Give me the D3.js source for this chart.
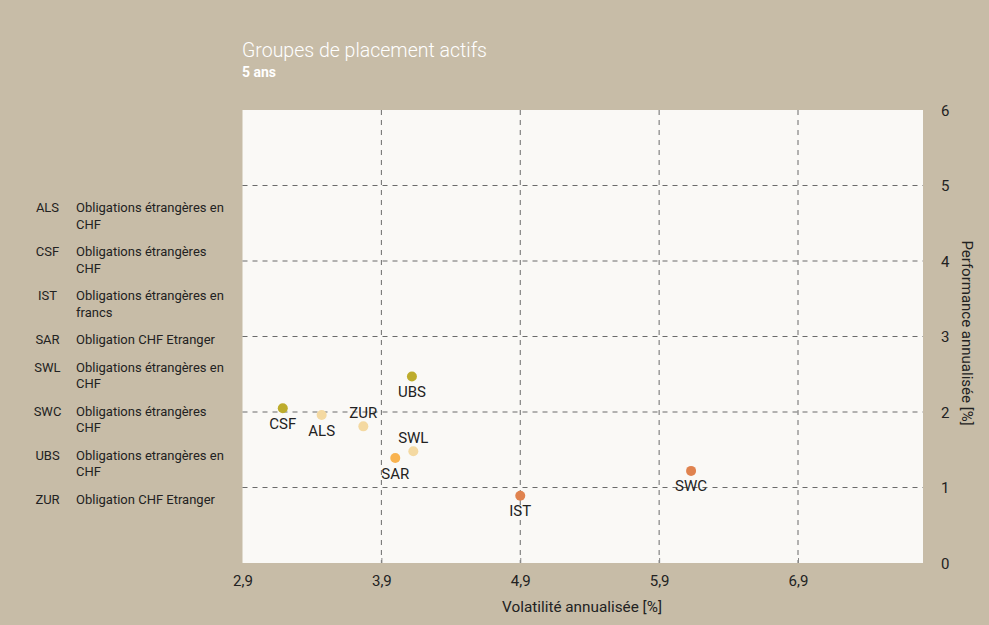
<!DOCTYPE html>
<html>
<head>
<meta charset="utf-8">
<script src="https://cdn.jsdelivr.net/npm/d3@7"></script>
<style>
  html, body { margin: 0; padding: 0; background: #c7bca7; }
  svg { display: block; font-family: Roboto, "Open Sans", sans-serif; }
</style>
</head>
<body>
<svg id="chart" width="989" height="625"></svg>
<script>
// ---- data ----
const codes = ["CSF", "ALS", "ZUR", "UBS", "SWL", "SAR", "IST", "SWC"];
const volatility = [3.19, 3.47, 3.77, 4.12, 4.13, 4.0, 4.9, 6.13];
const performance = [2.05, 1.96, 1.81, 2.47, 1.48, 1.39, 0.89, 1.22];
const labelAbove = [false, false, true, false, true, false, false, false];
const pointGroup = ["olive", "light", "light", "olive", "light", "orange", "red", "red"];

const xTicks = [2.9, 3.9, 4.9, 5.9, 6.9];
const yTicks = [0, 1, 2, 3, 4, 5, 6];

const legendCodes = ["ALS", "CSF", "IST", "SAR", "SWL", "SWC", "UBS", "ZUR"];
const legendText = [
  ["Obligations étrangères en", "CHF"],
  ["Obligations étrangères", "CHF"],
  ["Obligations étrangères en", "francs"],
  ["Obligation CHF Etranger"],
  ["Obligations étrangères en", "CHF"],
  ["Obligations étrangères", "CHF"],
  ["Obligations etrangères en", "CHF"],
  ["Obligation CHF Etranger"]
];

const title = "Groupes de placement actifs";
const subtitle = "5 ans";
const xTitle = "Volatilité annualisée [%]";
const yTitle = "Performance annualisée [%]";

// ---- layout ----
const svg = d3.select("#chart");
const plot = { left: 242.5, right: 923, top: 110, bottom: 563 };

const x = d3.scaleLinear().domain([2.9, 7.8]).range([plot.left, plot.right]);
const y = d3.scaleLinear().domain([0, 6]).range([plot.bottom, plot.top]);

const colors = d3.scaleOrdinal()
  .domain(["olive", "light", "orange", "red"])
  .range(["#bdac2c", "#f4d9a1", "#f9b34f", "#e0834f"]);

svg.append("rect").attr("width", 989).attr("height", 625).attr("fill", "#c7bca7");

svg.append("rect")
  .attr("x", plot.left).attr("y", plot.top)
  .attr("width", plot.right - plot.left).attr("height", plot.bottom - plot.top)
  .attr("fill", "#faf9f6");

// title
svg.append("text").attr("x", 242).attr("y", 56.5)
  .attr("fill", "#ffffff").attr("font-size", 19.5).attr("font-weight", 300)
  .text(title);
svg.append("text").attr("x", 242).attr("y", 77)
  .attr("fill", "#ffffff").attr("font-size", 14).attr("font-weight", 700)
  .text(subtitle);

// grid
const grid = svg.append("g");
grid.selectAll("line.v").data(xTicks.filter(d => d > 2.9)).join("line")
  .attr("class", "v")
  .attr("x1", d => x(d)).attr("x2", d => x(d))
  .attr("y1", plot.top).attr("y2", plot.bottom)
  .attr("stroke", "#6b6b6b").attr("stroke-width", 1).attr("stroke-dasharray", "5,5");
grid.selectAll("line.h").data(yTicks.filter(d => d > 0 && d < 6)).join("line")
  .attr("class", "h")
  .attr("x1", plot.left).attr("x2", plot.right)
  .attr("y1", d => y(d)).attr("y2", d => y(d))
  .attr("stroke", "#6b6b6b").attr("stroke-width", 1).attr("stroke-dasharray", "5,5");

// x axis
const xAxis = d3.axisBottom(x).tickValues(xTicks)
  .tickFormat(d => d3.format(".1f")(d).replace(".", ","))
  .tickSizeInner(-5).tickSizeOuter(0).tickPadding(12);
const gx = svg.append("g").attr("transform", `translate(0,${plot.bottom})`).call(xAxis);
gx.select(".domain").remove();
gx.selectAll(".tick line").attr("stroke", "#888")
  .attr("opacity", d => d > 2.9 ? 1 : 0);
gx.selectAll(".tick text").attr("fill", "#222").attr("font-size", 15)
  .attr("font-family", "Roboto, sans-serif");

// y axis (right)
const yAxis = d3.axisRight(y).tickValues(yTicks).tickFormat(d3.format("d"))
  .tickSize(0).tickPadding(18);
const gy = svg.append("g").attr("transform", `translate(${plot.right},0.5)`).call(yAxis);
gy.select(".domain").remove();
gy.selectAll(".tick text").attr("fill", "#222").attr("font-size", 15)
  .attr("font-family", "Roboto, sans-serif");

// axis titles
svg.append("text").attr("x", 582).attr("y", 611.5)
  .attr("text-anchor", "middle").attr("fill", "#222").attr("font-size", 15.3)
  .text(xTitle);
svg.append("text")
  .attr("transform", `translate(962,333) rotate(90)`)
  .attr("text-anchor", "middle").attr("fill", "#222").attr("font-size", 15)
  .text(yTitle);

// points
const idx = d3.range(codes.length);
const pts = svg.append("g");
pts.selectAll("circle").data(idx).join("circle")
  .attr("cx", i => x(volatility[i])).attr("cy", i => y(performance[i]))
  .attr("r", 5).attr("fill", i => colors(pointGroup[i]));
pts.selectAll("text").data(idx).join("text")
  .attr("x", i => x(volatility[i]))
  .attr("y", i => y(performance[i]) + (labelAbove[i] ? -8.5 : 20.5))
  .attr("text-anchor", "middle").attr("fill", "#222").attr("font-size", 15)
  .text(i => codes[i]);

// legend
const lg = svg.append("g").attr("font-size", 13).attr("fill", "#222");
let ly = 212;
legendCodes.forEach((c, i) => {
  lg.append("text").attr("x", 47.5).attr("y", ly).attr("text-anchor", "middle").text(c);
  legendText[i].forEach((t, j) => {
    lg.append("text").attr("x", 76).attr("y", ly + j * 16.5).text(t);
  });
  ly += (legendText[i].length - 1) * 16.5 + 27.5;
});
</script>
</body>
</html>
